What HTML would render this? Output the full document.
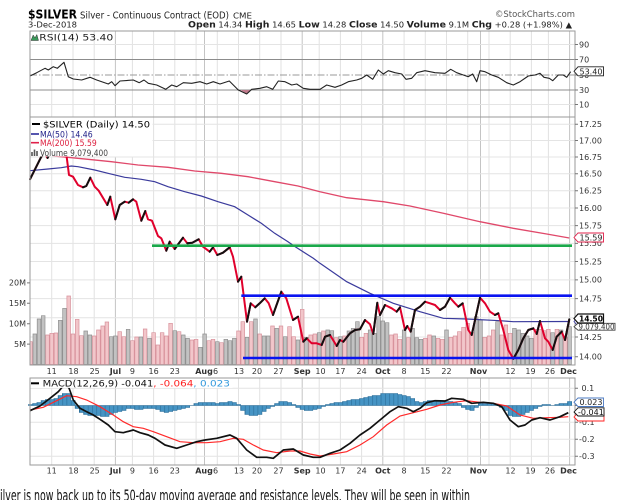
<!DOCTYPE html>
<html><head><meta charset="utf-8"><style>
html,body{margin:0;padding:0;background:#fff;overflow:hidden;width:633px;height:500px}
svg{display:block}
text{font-family:"DejaVu Sans","Liberation Sans",sans-serif}
</style></head><body>
<svg width="633" height="500" viewBox="0 0 633 500" xmlns="http://www.w3.org/2000/svg">
<defs>
<pattern id="hp" patternUnits="userSpaceOnUse" x="28.4" y="0" width="4.245" height="10"><rect width="0.6" height="10" fill="#2a6d98"/></pattern>
</defs>
<rect width="633" height="500" fill="#fff"/>

<!-- Header -->
<text x="28" y="18.3" font-family="Liberation Sans, sans-serif" font-weight="bold" font-size="12" textLength="49" lengthAdjust="spacingAndGlyphs">$SILVER</text>
<text x="80" y="18.3" font-family="Liberation Sans, sans-serif" font-size="9.5" fill="#222" textLength="149" lengthAdjust="spacingAndGlyphs">Silver - Continuous Contract (EOD)</text>
<text x="233" y="18.3" font-size="7.5" fill="#222" textLength="19" lengthAdjust="spacingAndGlyphs">CME</text>
<text x="28" y="27.3" font-size="8" fill="#222" textLength="49" lengthAdjust="spacingAndGlyphs">3-Dec-2018</text>
<text x="495" y="17" font-size="8.5" fill="#555" textLength="80" lengthAdjust="spacingAndGlyphs">©StockCharts.com</text>
<text x="188" y="27.5" font-size="8" fill="#222" textLength="384" lengthAdjust="spacingAndGlyphs"><tspan font-weight="bold" font-size="9">Open</tspan> 14.34 <tspan font-weight="bold" font-size="9">High</tspan> 14.65 <tspan font-weight="bold" font-size="9">Low</tspan> 14.28 <tspan font-weight="bold" font-size="9">Close</tspan> 14.50 <tspan font-weight="bold" font-size="9">Volume</tspan> 9.1M <tspan font-weight="bold" font-size="9">Chg</tspan> +0.28 (+1.98%) ▲</text>

<!-- Grid: vertical -->
<g stroke="#e2e2e2" stroke-width="1">
<path d="M51.7 31V365M73 31V365M94.2 31V365M132.4 31V365M153.6 31V365M174.8 31V365M196.1 31V365M217.3 31V365M238.5 31V365M259.7 31V365M281 31V365M319.2 31V365M340.4 31V365M361.6 31V365M404.1 31V365M425.3 31V365M446.5 31V365M467.7 31V365M489 31V365M510.2 31V365M531.4 31V365M548.4 31V365"/>
<path d="M51.7 378V465M73 378V465M94.2 378V465M132.4 378V465M153.6 378V465M174.8 378V465M196.1 378V465M217.3 378V465M238.5 378V465M259.7 378V465M281 378V465M319.2 378V465M340.4 378V465M361.6 378V465M404.1 378V465M425.3 378V465M446.5 378V465M467.7 378V465M489 378V465M510.2 378V465M531.4 378V465M548.4 378V465"/>
</g>
<g stroke="#c4c4c4" stroke-width="1">
<path d="M115.4 31V365M204.5 31V365M302.2 31V365M382.8 31V365M480.5 31V365M569.6 31V365"/>
<path d="M115.4 378V465M204.5 378V465M302.2 378V465M382.8 378V465M480.5 378V465M569.6 378V465"/>
</g>
<!-- Grid: horizontal -->
<g stroke="#e4e4e4" stroke-width="1">
<path d="M30 124.3H575M30 140.5H575M30 157H575M30 173.8H575M30 190.8H575M30 208H575M30 225.6H575M30 243.4H575M30 261.5H575M30 279.9H575M30 298.6H575M30 317.7H575M30 337H575M30 356.8H575"/>
<path d="M30 44.5H575M30 104.5H575"/>
<path d="M30 388.3H575M30 405.5H575M30 422.3H575M30 439.3H575M30 456.3H575"/>
</g>
<path d="M30 59.5H575M30 90H575" stroke="#8c8c8c" stroke-width="1"/>
<path d="M30 75H575" stroke="#999" stroke-width="1" stroke-dasharray="7,2,1.5,2"/>

<!-- RSI -->
<polygon points="240.5,90 246.7,94 250.5,90" fill="#c07a8c"/>
<polyline fill="none" stroke="#222" stroke-width="1.1" stroke-linejoin="round" points="30,76 36.7,72.7 45,68.3 48.3,70 53.3,66.7 57.3,68.3 64,62.3 68.3,76.7 73.3,79 81.7,80 90,77.3 96.7,80 108.3,84 111.7,81.7 115,85.7 120,81 133.3,80 139.3,82.7 144,80 148.3,83.3 156.7,85 165.7,89.3 171.7,85 176.7,86.7 183.3,82.7 191.7,83.3 200,81.7 206.7,84 213.3,81.7 220,84 229.3,81 238.3,90 246.7,94 251.7,89.3 260,88.3 266.7,86.7 272.7,89.3 278.3,81 285,81.7 291.7,85 296.7,84 303.3,88.3 310,89.3 320,89.3 326.7,85 335,87.3 341.7,85 348.3,81.7 356.7,80 361.7,78.3 366.7,75 372.7,79.3 378.3,70 383.3,74 388.3,70.7 395,72.7 401.7,74 406,79.3 411.7,78.3 416.7,72.7 425,70.7 435,72.7 445,73.3 450.7,69.3 456.7,72.7 463.3,75 468.3,76.7 472.7,74 476.7,81.7 480,70.7 485,71.7 491.7,75 498.3,77.3 506.7,82.7 513.3,85 520,81.7 528.3,76 535,75 540,73.3 544,77.3 549.3,78.3 552.7,80.7 558.3,75 563.3,75 566.7,77.3 570.7,71.7"/>
<polygon points="31,40.5 33.2,35 35,38 36.8,34.5 38.5,40.5" fill="#3a9a5a" stroke="#333" stroke-width="0.5"/>
<text x="39.3" y="40.5" font-size="9" fill="#222" textLength="74" lengthAdjust="spacingAndGlyphs">RSI(14) 53.40</text>

<!-- Volume bars -->
<path fill="#f2c6ca" stroke="#d8929c" stroke-width="0.7" d="M30 341.7h2.3V364.5h-2.3zM45.7 335h3.6V364.5h-3.6zM49.9 333.3h3.6V364.5h-3.6zM54.2 333h3.6V364.5h-3.6zM66.9 296h3.6V364.5h-3.6zM71.2 334h3.6V364.5h-3.6zM75.4 319.3h3.6V364.5h-3.6zM79.6 335.7h3.6V364.5h-3.6zM92.4 336h3.6V364.5h-3.6zM96.6 330h3.6V364.5h-3.6zM100.9 326h3.6V364.5h-3.6zM105.1 322h3.6V364.5h-3.6zM117.9 331.7h3.6V364.5h-3.6zM122.1 336.7h3.6V364.5h-3.6zM130.6 340.7h3.6V364.5h-3.6zM134.8 337h3.6V364.5h-3.6zM143.3 329h3.6V364.5h-3.6zM151.8 332.7h3.6V364.5h-3.6zM156.1 345h3.6V364.5h-3.6zM160.3 332.7h3.6V364.5h-3.6zM164.5 336h3.6V364.5h-3.6zM168.8 323.3h3.6V364.5h-3.6zM177.3 331.7h3.6V364.5h-3.6zM190 340h3.6V364.5h-3.6zM194.3 339.3h3.6V364.5h-3.6zM207 340.7h3.6V364.5h-3.6zM211.2 339.3h3.6V364.5h-3.6zM219.7 342.7h3.6V364.5h-3.6zM236.7 331h3.6V364.5h-3.6zM241 321.7h3.6V364.5h-3.6zM249.4 321.7h3.6V364.5h-3.6zM257.9 334h3.6V364.5h-3.6zM270.7 326h3.6V364.5h-3.6zM279.2 326h3.6V364.5h-3.6zM287.7 326.7h3.6V364.5h-3.6zM291.9 336.7h3.6V364.5h-3.6zM300.4 309.3h3.6V364.5h-3.6zM308.9 335h3.6V364.5h-3.6zM313.1 334h3.6V364.5h-3.6zM321.6 331h3.6V364.5h-3.6zM334.3 337.7h3.6V364.5h-3.6zM342.8 336h3.6V364.5h-3.6zM359.8 337.3h3.6V364.5h-3.6zM364.1 333.3h3.6V364.5h-3.6zM389.5 335h3.6V364.5h-3.6zM393.8 334h3.6V364.5h-3.6zM398 339.3h3.6V364.5h-3.6zM406.5 337.7h3.6V364.5h-3.6zM423.5 338.3h3.6V364.5h-3.6zM427.7 335h3.6V364.5h-3.6zM436.2 338.3h3.6V364.5h-3.6zM440.5 339.3h3.6V364.5h-3.6zM449 337.3h3.6V364.5h-3.6zM453.2 336h3.6V364.5h-3.6zM457.5 331.7h3.6V364.5h-3.6zM461.7 327.3h3.6V364.5h-3.6zM465.9 323.3h3.6V364.5h-3.6zM470.2 332.7h3.6V364.5h-3.6zM482.9 337.3h3.6V364.5h-3.6zM487.2 336h3.6V364.5h-3.6zM491.4 330h3.6V364.5h-3.6zM499.9 335h3.6V364.5h-3.6zM504.1 325h3.6V364.5h-3.6zM508.4 333.3h3.6V364.5h-3.6zM533.9 329.3h3.6V364.5h-3.6zM538.1 329.3h3.6V364.5h-3.6zM542.4 330.7h3.6V364.5h-3.6zM546.6 329.3h3.6V364.5h-3.6zM555.1 329.3h3.6V364.5h-3.6zM563.6 337.3h3.6V364.5h-3.6z"/>
<path fill="#c2c2c2" stroke="#909090" stroke-width="0.7" d="M33 334h3.6V364.5h-3.6zM37.2 319h3.6V364.5h-3.6zM41.4 315.7h3.6V364.5h-3.6zM58.4 320.3h3.6V364.5h-3.6zM62.7 308.3h3.6V364.5h-3.6zM83.9 331h3.6V364.5h-3.6zM88.1 335h3.6V364.5h-3.6zM109.4 336.7h3.6V364.5h-3.6zM113.6 336h3.6V364.5h-3.6zM126.3 329.3h3.6V364.5h-3.6zM139.1 337h3.6V364.5h-3.6zM147.6 338.3h3.6V364.5h-3.6zM173 330.7h3.6V364.5h-3.6zM181.5 335h3.6V364.5h-3.6zM185.8 338.3h3.6V364.5h-3.6zM198.5 347.3h3.6V364.5h-3.6zM202.8 334h3.6V364.5h-3.6zM215.5 341.7h3.6V364.5h-3.6zM224 339.3h3.6V364.5h-3.6zM228.2 340.7h3.6V364.5h-3.6zM232.5 338.3h3.6V364.5h-3.6zM245.2 337.3h3.6V364.5h-3.6zM253.7 319h3.6V364.5h-3.6zM262.2 336h3.6V364.5h-3.6zM266.4 336h3.6V364.5h-3.6zM274.9 328.3h3.6V364.5h-3.6zM283.4 336.7h3.6V364.5h-3.6zM296.1 340h3.6V364.5h-3.6zM304.6 337.3h3.6V364.5h-3.6zM317.4 332.7h3.6V364.5h-3.6zM325.9 330h3.6V364.5h-3.6zM330.1 330.7h3.6V364.5h-3.6zM338.6 336.7h3.6V364.5h-3.6zM347.1 331h3.6V364.5h-3.6zM351.3 328.3h3.6V364.5h-3.6zM355.6 321.7h3.6V364.5h-3.6zM368.3 330h3.6V364.5h-3.6zM372.6 333.3h3.6V364.5h-3.6zM376.8 316.7h3.6V364.5h-3.6zM381 321h3.6V364.5h-3.6zM385.3 322.7h3.6V364.5h-3.6zM402.3 330h3.6V364.5h-3.6zM410.8 328.3h3.6V364.5h-3.6zM415 337.7h3.6V364.5h-3.6zM419.2 339.3h3.6V364.5h-3.6zM432 336h3.6V364.5h-3.6zM444.7 330h3.6V364.5h-3.6zM474.4 316.7h3.6V364.5h-3.6zM478.7 320h3.6V364.5h-3.6zM495.7 321.7h3.6V364.5h-3.6zM512.6 328.3h3.6V364.5h-3.6zM516.9 330h3.6V364.5h-3.6zM521.1 333.3h3.6V364.5h-3.6zM525.4 336h3.6V364.5h-3.6zM529.6 338.3h3.6V364.5h-3.6zM550.8 332.7h3.6V364.5h-3.6zM559.3 330h3.6V364.5h-3.6zM567.8 326.7h3.6V364.5h-3.6z"/>

<!-- Moving averages -->
<polyline fill="none" stroke="#e0486a" stroke-width="1.3" points="30,154 61.3,156.7 88,159.3 111.3,161.7 138,165 168,167.3 194.7,171 221.3,173.3 248,176.7 274.7,181.7 298,186 320,191.7 346.7,197.7 383.3,201.7 410,206 443.3,213.3 480,221.7 513.3,228.3 546.7,234 569.3,238"/>
<polyline fill="none" stroke="#3a3a9c" stroke-width="1.2" points="30,170.7 48,169 61.3,167.7 71.3,166 78,166.7 94.7,170 108,173.3 124.7,177.3 141.3,179.3 154.7,181.7 168,186.7 184.7,191.7 201.3,196 218,201.7 234.7,206.7 248,215 261.3,223.3 274.7,233.3 288,241.7 293.3,245.5 313.3,258.3 320,263.3 346.7,281.7 370,293.3 393.3,303.3 420,311.7 443.3,318.3 466.7,319 500,320.7 513.3,321.7 570,321.5"/>

<!-- Price line -->
<polyline fill="none" stroke="#e0002c" stroke-width="2" stroke-linejoin="round" points="30,179.3 41.3,156.7 45,154 47.5,158 51.7,150 56,147 60.2,145 64.5,140 69,175 73,176.7 78,185 83,187.3 86.3,186 90.3,177.7 94.7,186.7 98.7,190.7 107.3,205 110.3,196.7 115.3,219.3 119.7,205 124.7,201.7 128.7,202.7 133,199.3 136.3,201.7 141.3,220.7 145.3,211 148,219.3 152,220.7 158,236 161.3,238.3 166.3,250.7 169.7,241.7 174.7,249 183,237.7 187.3,243.3 192.3,242.7 198.7,239.3 203,246.7 209.7,251.7 213,247.3 217.3,255 223,252.7 229.7,247.3 233,256.7 238,281.7 241.3,276.7 247,321.7 250.7,303.3 255.3,307.3 259.7,303.3 264.7,298.3 268.7,303.3 273,315 281.3,291.7 286.3,298.3 293,320 298,316.7 303.3,341.7 306.7,338.3 311.7,343.3 316.7,343.3 321.7,345 325,336.7 330,335 336.7,346 340,340 343.3,341.7 350,333.3 355,330 360,329.3 365,320 370,324.3 373.3,334 377.3,302.7 380,315 385,305 391.7,308.3 396.7,311.7 400,307.3 405,330 407.3,326 410.7,331.7 415,310 420,306.7 425,301.7 430,303.3 435,305 440,310 445,306.7 450,297.7 455,303.3 458.3,306.7 462.7,303.3 468.3,330 471.7,335 480,297.7 485,303.3 490,311.7 495,315 498.3,313.3 503.3,330 508.3,350 513.3,358.7 518.3,350 523.3,338.3 528.3,330 533.3,328.3 536.7,334 540,321 545,338.3 548.3,341.7 552.7,350 556.7,336.7 561.7,331.7 565,340 569.3,319.3"/>
<g fill="none" stroke="#111" stroke-width="2" stroke-linejoin="round" stroke-linecap="round">
<polyline points="30,179.3 41.3,156.7 45,154"/>
<polyline points="47.5,158 51.7,150 56,147 60.2,145 64.5,140"/>
<polyline points="83,187.3 86.3,186 90.3,177.7"/>
<polyline points="107.3,205 110.3,196.7"/>
<polyline points="115.3,219.3 119.7,205 124.7,201.7"/>
<polyline points="128.7,202.7 133,199.3"/>
<polyline points="141.3,220.7 145.3,211"/>
<polyline points="166.3,250.7 169.7,241.7"/>
<polyline points="174.7,249 183,237.7"/>
<polyline points="187.3,243.3 192.3,242.7 198.7,239.3"/>
<polyline points="209.7,251.7 213,247.3"/>
<polyline points="217.3,255 223,252.7 229.7,247.3"/>
<polyline points="238,281.7 241.3,276.7"/>
<polyline points="247,321.7 250.7,303.3"/>
<polyline points="255.3,307.3 259.7,303.3 264.7,298.3"/>
<polyline points="273,315 281.3,291.7"/>
<polyline points="293,320 298,316.7"/>
<polyline points="303.3,341.7 306.7,338.3"/>
<polyline points="321.7,345 325,336.7 330,335"/>
<polyline points="336.7,346 340,340"/>
<polyline points="343.3,341.7 350,333.3 355,330 360,329.3 365,320"/>
<polyline points="373.3,334 377.3,302.7"/>
<polyline points="380,315 385,305"/>
<polyline points="396.7,311.7 400,307.3"/>
<polyline points="405,330 407.3,326"/>
<polyline points="410.7,331.7 415,310 420,306.7 425,301.7"/>
<polyline points="440,310 445,306.7 450,297.7"/>
<polyline points="458.3,306.7 462.7,303.3"/>
<polyline points="471.7,335 480,297.7"/>
<polyline points="495,315 498.3,313.3"/>
<polyline points="513.3,358.7 518.3,350 523.3,338.3 528.3,330 533.3,328.3"/>
<polyline points="536.7,334 540,321"/>
<polyline points="552.7,350 556.7,336.7 561.7,331.7"/>
<polyline points="565,340 569.3,319.3"/>
</g>

<!-- Annotation lines -->
<path d="M152 245.7H572" stroke="#1aa84a" stroke-width="2.6"/>
<path d="M241.3 295.7H572M243 358H572" stroke="#0a14f0" stroke-width="2.6"/>

<!-- Price legend -->
<rect x="30.5" y="117.5" width="122" height="39" fill="#fff"/>
<path d="M32 124H40" stroke="#000" stroke-width="2"/>
<text x="43" y="127.4" font-family="DejaVu Sans Mono, monospace" font-size="9" fill="#000" textLength="107" lengthAdjust="spacingAndGlyphs">$SILVER (Daily) 14.50</text>
<path d="M31 134H39" stroke="#2b2b9a" stroke-width="1.6"/>
<text x="40" y="137.3" font-size="9" fill="#23238a" textLength="52.7" lengthAdjust="spacingAndGlyphs">MA(50) 14.46</text>
<path d="M31 142.7H39" stroke="#e0204a" stroke-width="1.6"/>
<text x="40" y="146" font-size="9" fill="#dd1c3c" textLength="56.7" lengthAdjust="spacingAndGlyphs">MA(200) 15.59</text>
<path d="M32 156V152M34.5 156V149.5M37 156V151" stroke="#555" stroke-width="1.6"/>
<text x="40" y="156" font-size="9" fill="#444" textLength="68" lengthAdjust="spacingAndGlyphs">Volume 9,079,400</text>

<!-- MACD -->
<path fill="#4694c4" stroke="#2a6d98" stroke-width="0.6" d="M28.4 405.5V404.5H32.6V403.5H36.9V402.5H41.1V400.5H45.4V399.5H49.6V399.5H53.9V398.5H58.1V395.5H62.3V393.5H66.6V393.5H70.8V400.5H75.1V408.5H79.3V412.5H83.6V414.5H87.8V415.5H92.1V415.5H96.3V415.5H100.5V416.5H104.8V416.5H109V414.5H113.3V412.5H117.5V411.5H121.8V410.5H126V408.5H130.3V408.5H134.5V409.5H138.7V409.5H143V408.5H147.2V408.5H151.5V408.5H155.7V409.5H160V411.5H164.2V412.5H168.5V411.5H172.7V410.5H177V409.5H181.2V408.5H185.4V407.5H189.7V405.5H193.9V403.5H198.2V402.5H202.4V402.5H206.7V402.5H210.9V402.5H215.2V403.5H219.4V402.5H223.7V402.5H227.9V401.5H232.1V402.5H236.4V404.5H240.6V410.5H244.9V414.5H249.1V415.5H253.4V415.5H257.6V414.5H261.9V411.5H266.1V408.5H270.3V406.5H274.6V403.5H278.8V401.5H283.1V401.5H287.3V402.5H291.6V404.5H295.8V407.5H300.1V409.5H304.3V410.5H308.6V410.5H312.8V409.5H317V408.5H321.3V406.5H325.5V404.5H329.8V403.5H334V402.5H338.3V402.5H342.5V401.5H346.8V400.5H351V399.5H355.2V399.5H359.5V398.5H363.7V397.5H368V396.5H372.2V395.5H376.5V395.5H380.7V393.5H385V393.5H389.2V393.5H393.5V393.5H397.7V394.5H401.9V395.5H406.2V396.5H410.4V398.5H414.7V401.5H418.9V402.5H423.2V401.5H427.4V400.5H431.7V400.5H435.9V401.5H440.1V401.5H444.4V401.5H448.6V401.5H452.9V402.5H457.1V403.5H461.4V407.5H465.6V409.5H469.9V410.5H474.1V407.5H478.4V403.5H482.6V402.5H486.8V403.5H491.1V403.5H495.3V404.5H499.6V407.5H503.8V410.5H508.1V415.5H512.3V416.5H516.6V416.5H520.8V414.5H525V412.5H529.3V410.5H533.5V408.5H537.8V406.5H542V404.5H546.3V404.5H550.5V405.5H554.8V404.5H559V403.5H563.2V403.5H567.5V401.5H571.7V405.5Z"/>
<path fill="url(#hp)" d="M28.4 405.5V404.5H32.6V403.5H36.9V402.5H41.1V400.5H45.4V399.5H49.6V399.5H53.9V398.5H58.1V395.5H62.3V393.5H66.6V393.5H70.8V400.5H75.1V408.5H79.3V412.5H83.6V414.5H87.8V415.5H92.1V415.5H96.3V415.5H100.5V416.5H104.8V416.5H109V414.5H113.3V412.5H117.5V411.5H121.8V410.5H126V408.5H130.3V408.5H134.5V409.5H138.7V409.5H143V408.5H147.2V408.5H151.5V408.5H155.7V409.5H160V411.5H164.2V412.5H168.5V411.5H172.7V410.5H177V409.5H181.2V408.5H185.4V407.5H189.7V405.5H193.9V403.5H198.2V402.5H202.4V402.5H206.7V402.5H210.9V402.5H215.2V403.5H219.4V402.5H223.7V402.5H227.9V401.5H232.1V402.5H236.4V404.5H240.6V410.5H244.9V414.5H249.1V415.5H253.4V415.5H257.6V414.5H261.9V411.5H266.1V408.5H270.3V406.5H274.6V403.5H278.8V401.5H283.1V401.5H287.3V402.5H291.6V404.5H295.8V407.5H300.1V409.5H304.3V410.5H308.6V410.5H312.8V409.5H317V408.5H321.3V406.5H325.5V404.5H329.8V403.5H334V402.5H338.3V402.5H342.5V401.5H346.8V400.5H351V399.5H355.2V399.5H359.5V398.5H363.7V397.5H368V396.5H372.2V395.5H376.5V395.5H380.7V393.5H385V393.5H389.2V393.5H393.5V393.5H397.7V394.5H401.9V395.5H406.2V396.5H410.4V398.5H414.7V401.5H418.9V402.5H423.2V401.5H427.4V400.5H431.7V400.5H435.9V401.5H440.1V401.5H444.4V401.5H448.6V401.5H452.9V402.5H457.1V403.5H461.4V407.5H465.6V409.5H469.9V410.5H474.1V407.5H478.4V403.5H482.6V402.5H486.8V403.5H491.1V403.5H495.3V404.5H499.6V407.5H503.8V410.5H508.1V415.5H512.3V416.5H516.6V416.5H520.8V414.5H525V412.5H529.3V410.5H533.5V408.5H537.8V406.5H542V404.5H546.3V404.5H550.5V405.5H554.8V404.5H559V403.5H563.2V403.5H567.5V401.5H571.7V405.5Z"/>
<polyline fill="none" stroke="#ff2a2a" stroke-width="1.2" points="30,410 43.3,407.3 56.7,400.7 66.7,395.7 76.7,396.7 86.7,400 100,406.7 113.3,415 123.3,421.7 133.3,426.7 143.3,428.3 153.3,431.7 166.7,436.7 180,441.7 193.3,442.7 206.7,442.7 220,441.7 233.3,438.3 243.3,439.3 253.3,445 263.3,450 276.7,452.7 290,451 300,451 310,454 320,456 333.3,454 346.7,451.7 360,445 373.3,436.7 386.7,425 400,416 413.3,412.7 426.7,409.3 440,405 453.3,402.3 466.7,400.7 480,402.3 493.3,403.3 506.7,406 520,415 533.3,418.3 546.7,417.7 560,417.3 568.3,416.7"/>
<polyline fill="none" stroke="#111" stroke-width="1.7" stroke-linejoin="round" points="30,410.7 40,406 50,398.3 58.3,391.7 65,384 69,388 73.3,400 80,408.3 86.7,411.7 93.3,415 100,419.3 108.3,425 115,431.7 123.3,432.7 133.3,430 140,432.7 148.3,435 155,438.3 165,445 176.7,448.3 186.7,445 196.7,441.7 205,440 216.7,438.3 230,435 236.7,438.3 246.7,450 256.7,457.3 266.7,457.3 273.3,458.3 283.3,450 293.3,449 303.3,455 313.3,457.3 320,457.3 330,453.3 340,450 350,443.3 360,435 370,428.3 380,420 390,411.7 398.3,406.7 406.7,408.3 413.3,411.7 420,408.3 426.7,402.7 435,400.7 445,401 451.7,398.3 463.3,399.3 471.7,403.3 483.3,402.3 493.3,403.3 501.7,406.7 510,420 518.3,426.7 525,425 531.7,420 540,417.7 550,420 560,416.7 568.3,412.7"/>
<rect x="30.5" y="378.5" width="202" height="9.5" fill="#fff" fill-opacity="0.9"/>
<path d="M31 383.3H39" stroke="#000" stroke-width="2"/>
<text y="386.6" font-family="DejaVu Sans Mono, monospace" font-size="9"><tspan x="42.7" fill="#111" textLength="110.6" lengthAdjust="spacingAndGlyphs">MACD(12,26,9) -0.041</tspan><tspan x="153.3" fill="#ff2020" textLength="40" lengthAdjust="spacingAndGlyphs">, -0.064</tspan><tspan x="193.3" fill="#3399dd" textLength="36.7" lengthAdjust="spacingAndGlyphs">, 0.023</tspan></text>

<!-- Panel frames -->
<g fill="none" stroke="#9a9a9a" stroke-width="1">
<rect x="30" y="31" width="545" height="86"/>
<rect x="30" y="117" width="545" height="248"/>
<rect x="30" y="378" width="545" height="87"/>
</g>

<!-- Right axis ticks -->
<path stroke="#777" stroke-width="1" d="M575 44.5h3M575 59.5h3M575 75h3M575 90h3M575 104.5h3M575 124.3h3M575 140.5h3M575 157h3M575 173.8h3M575 190.8h3M575 208h3M575 225.6h3M575 243.4h3M575 261.5h3M575 279.9h3M575 298.6h3M575 317.7h3M575 337h3M575 356.8h3M575 388.3h3M575 405.5h3M575 422.3h3M575 439.3h3M575 456.3h3M27 282.9h3M27 303.3h3M27 323.7h3M27 344.1h3"/>

<!-- Right axis labels -->
<g font-size="8" fill="#333">
<text x="579" y="47.3">90</text>
<text x="579" y="62.3">70</text>
<text x="579" y="77.8">50</text>
<text x="579" y="92.8">30</text>
<text x="579" y="107.3">10</text>
<text x="579" y="127.1">17.25</text>
<text x="579" y="143.3">17.00</text>
<text x="579" y="159.8">16.75</text>
<text x="579" y="176.6">16.50</text>
<text x="579" y="193.6">16.25</text>
<text x="579" y="210.8">16.00</text>
<text x="579" y="228.4">15.75</text>
<text x="579" y="246.2">15.50</text>
<text x="579" y="264.3">15.25</text>
<text x="579" y="282.7">15.00</text>
<text x="579" y="301.4">14.75</text>
<text x="579" y="339.8">14.25</text>
<text x="579" y="359.6">14.00</text>
<text x="581.5" y="391.1">0.1</text>
<text x="579" y="425.1">-0.1</text>
<text x="579" y="442.1">-0.2</text>
<text x="579" y="459.1">-0.3</text>
</g>
<!-- Left volume labels -->
<g font-size="8" fill="#333" text-anchor="end">
<text x="26" y="285.7">20M</text>
<text x="26" y="306.1">15M</text>
<text x="26" y="326.5">10M</text>
<text x="26" y="346.9">5M</text>
</g>

<!-- Value boxes -->
<g font-size="8">
<path d="M574 71.3L578 66.8H603.5V75.8H578Z" fill="#fff" stroke="#222" stroke-width="0.9"/>
<text x="579.5" y="74.3" fill="#222">53.40</text>
<path d="M574 237.5L578 233H603.5V242H578Z" fill="#fff" stroke="#e0204a" stroke-width="0.9"/>
<text x="579.5" y="240.5" fill="#222">15.59</text>
<path d="M574 321.5L578 317H603.5V326H578Z" fill="#fff" stroke="#3a3a9c" stroke-width="0.9"/>
<path d="M574 326.7L578 323.3H615V330.2H578Z" fill="#fff" stroke="#444" stroke-width="0.9"/>
<text x="578.5" y="329.6" fill="#333" font-size="7.5" textLength="36" lengthAdjust="spacingAndGlyphs">9,079,400</text>
<path d="M574 318.5L578 314H603.5V323H578Z" fill="#fff" stroke="#111" stroke-width="1.2"/>
<text x="579" y="321.6" fill="#000" font-weight="bold" textLength="24" lengthAdjust="spacingAndGlyphs">14.50</text>
<path d="M574 402.2L578 398H603.5V406.5H578Z" fill="#fff" stroke="#4a78c0" stroke-width="0.9"/>
<text x="579.5" y="405.2" fill="#222">0.023</text>
<path d="M574 417L578 412.8H604V421H578Z" fill="#fff" stroke="#ff2020" stroke-width="0.9"/>
<path d="M574 412L578 407.8H604V416H578Z" fill="#fff" stroke="#111" stroke-width="0.9"/>
<text x="578" y="415" fill="#111">-0.041</text>
</g>

<!-- X axis labels (price panel) -->
<g font-size="8" fill="#333" text-anchor="middle">
<text x="51.7" y="374">11</text><text x="73.5" y="374">18</text><text x="94.7" y="374">25</text>
<text x="115.4" y="374" font-weight="bold">Jul</text>
<text x="132.4" y="374">9</text><text x="153.6" y="374">16</text><text x="174.8" y="374">23</text>
<text x="204" y="374" font-weight="bold">Aug</text><text x="215.5" y="374">6</text>
<text x="239" y="374">13</text><text x="257" y="374">20</text><text x="278.5" y="374">27</text>
<text x="302.2" y="374" font-weight="bold">Sep</text>
<text x="320.5" y="374">10</text><text x="340.4" y="374">17</text><text x="361.6" y="374">24</text>
<text x="382.8" y="374" font-weight="bold">Oct</text>
<text x="404.1" y="374">8</text><text x="425.3" y="374">15</text><text x="446.5" y="374">22</text>
<text x="478.5" y="374" font-weight="bold">Nov</text>
<text x="510.5" y="374">12</text><text x="530.5" y="374">19</text><text x="550" y="374">26</text>
<text x="568.5" y="374" font-weight="bold">Dec</text>
</g>
<!-- X axis labels (MACD panel) -->
<g font-size="8" fill="#333" text-anchor="middle">
<text x="51.7" y="473.5">11</text><text x="73.5" y="473.5">18</text><text x="94.7" y="473.5">25</text>
<text x="115.4" y="473.5" font-weight="bold">Jul</text>
<text x="132.4" y="473.5">9</text><text x="153.6" y="473.5">16</text><text x="174.8" y="473.5">23</text>
<text x="204" y="473.5" font-weight="bold">Aug</text><text x="215.5" y="473.5">6</text>
<text x="239" y="473.5">13</text><text x="257" y="473.5">20</text><text x="278.5" y="473.5">27</text>
<text x="302.2" y="473.5" font-weight="bold">Sep</text>
<text x="320.5" y="473.5">10</text><text x="340.4" y="473.5">17</text><text x="361.6" y="473.5">24</text>
<text x="382.8" y="473.5" font-weight="bold">Oct</text>
<text x="404.1" y="473.5">8</text><text x="425.3" y="473.5">15</text><text x="446.5" y="473.5">22</text>
<text x="478.5" y="473.5" font-weight="bold">Nov</text>
<text x="510.5" y="473.5">12</text><text x="530.5" y="473.5">19</text><text x="550" y="473.5">26</text>
<text x="568.5" y="473.5" font-weight="bold">Dec</text>
</g>

<!-- Cut-off article text at bottom -->
<text x="-6" y="501" font-family="Liberation Serif, serif" font-size="16" fill="#111" textLength="476" lengthAdjust="spacingAndGlyphs">Silver is now back up to its 50-day moving average and resistance levels. They will be seen in within</text>
</svg>
</body></html>
